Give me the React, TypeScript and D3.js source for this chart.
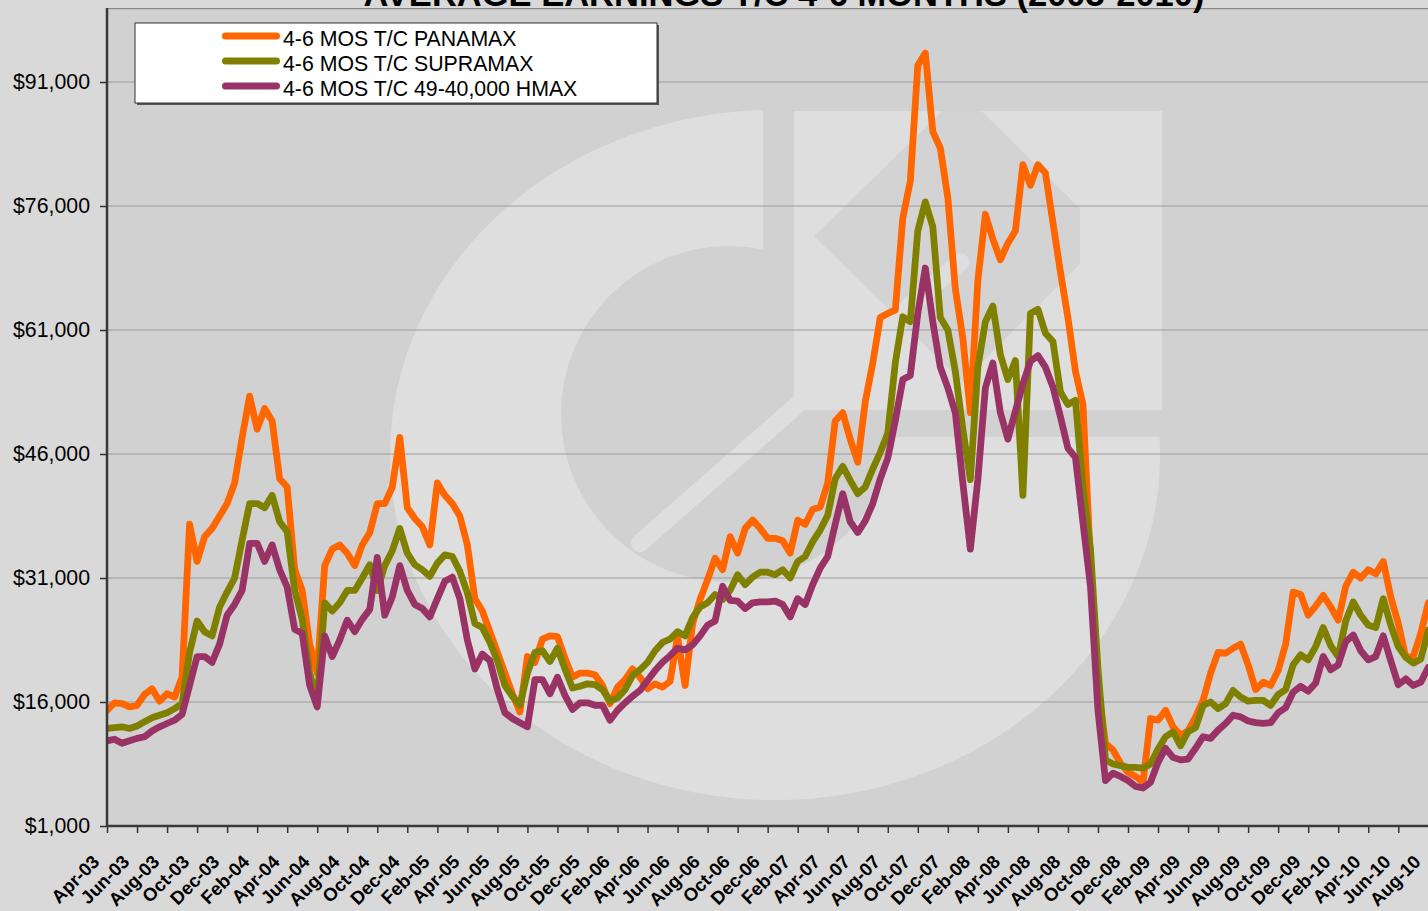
import { useEffect, useRef } from "react";
import * as d3 from "d3";

const W = 1428;
const H = 911;
const FONT = "Arial, 'Liberation Sans', sans-serif";
const TITLE = "AVERAGE EARNINGS T/C 4-6 MONTHS (2003-2010)";

// semi-monthly readings in $ thousands, first value = Apr-03
const panamax = [
  15.0, 15.9, 15.8, 15.4, 15.6, 16.9, 17.6, 16.1, 17.0, 16.6,
  19.0, 37.5, 33.0, 36.0, 37.0, 38.5, 40.0, 42.5, 48.0, 53.0,
  49.0, 51.5, 50.0, 43.0, 42.0, 32.0, 29.5, 23.0, 19.5, 32.5,
  34.5, 35.0, 34.0, 32.5, 35.0, 36.5, 40.0, 40.0, 42.0, 48.0,
  39.5, 38.2, 37.2, 35.0, 42.5, 41.0, 40.0, 38.5, 35.0, 28.5,
  27.0, 24.5, 22.0, 19.5, 17.0, 14.8, 21.5, 20.8, 23.6, 24.0,
  23.9, 21.3, 19.0, 19.5, 19.5, 19.3, 18.0, 15.8, 17.8, 18.7,
  20.0, 19.0, 17.6, 18.2, 17.8, 18.5, 23.9, 18.0, 25.5, 28.4,
  30.8, 33.4, 32.0, 36.0, 34.0, 37.0, 38.0, 37.0, 35.8, 35.8,
  35.5, 34.0, 38.0, 37.5, 39.3, 39.6, 42.5, 50.0, 51.0, 47.8,
  45.0, 52.3, 57.0, 62.5, 63.0, 63.4, 74.5, 79.0, 93.0, 94.5,
  85.0, 83.0, 77.0, 66.0, 60.0, 51.0, 67.0, 75.0, 72.0, 69.5,
  71.5, 73.0, 81.0, 78.5, 81.0, 80.0, 74.0, 68.0, 62.5, 56.0,
  52.0, 33.0, 18.0, 11.0, 10.2, 8.6, 7.5, 7.0, 6.3, 14.0,
  13.8, 15.0, 13.0, 12.0, 12.5, 14.2, 16.2, 19.5, 22.0, 21.9,
  22.5, 23.0, 20.5, 17.5, 18.4, 18.0, 19.8, 23.0, 29.3, 29.0,
  26.5, 27.6, 28.9, 27.5, 25.9, 30.0, 31.7, 31.0, 32.0, 31.5,
  33.0, 28.7, 25.5, 21.4, 21.5, 24.3, 28.0,
];

const supramax = [
  12.8, 12.9, 13.0, 12.8, 13.1, 13.6, 14.1, 14.4, 14.7, 15.2,
  15.8, 22.0, 25.8, 24.5, 24.0, 27.5, 29.3, 31.0, 35.6, 40.0,
  40.0, 39.5, 41.0, 37.8, 36.6, 29.5, 26.0, 19.5, 16.3, 28.0,
  27.0, 28.0, 29.5, 29.5, 31.0, 32.6, 29.5, 32.5, 34.3, 37.0,
  34.0, 32.6, 32.0, 31.2, 32.8, 33.8, 33.6, 31.8, 29.2, 25.5,
  25.0, 23.2, 21.0, 18.0, 16.7, 15.6, 19.5, 22.0, 22.2, 20.9,
  22.5, 20.0, 17.7, 17.9, 18.2, 18.1, 17.5, 16.1, 16.5, 17.5,
  19.2, 19.9, 20.8, 22.2, 23.2, 23.6, 24.5, 24.0, 26.2, 27.5,
  28.0, 29.0, 28.4, 29.5, 31.4, 30.2, 31.1, 31.7, 31.7, 31.4,
  32.0, 31.0, 33.0, 33.6, 35.4, 36.8, 38.6, 43.0, 44.5, 42.8,
  41.2, 42.0, 44.2, 46.2, 48.5, 57.0, 62.6, 62.0, 73.0, 76.5,
  73.5, 62.5, 61.0, 56.0, 49.0, 42.9, 56.5, 62.0, 63.9, 58.0,
  55.0, 57.3, 41.0, 63.0, 63.5, 60.6, 59.6, 53.5, 52.0, 52.5,
  42.0, 34.5, 20.0, 9.0, 8.5, 8.3, 8.1, 8.1, 8.0, 8.5,
  10.3, 11.8, 12.4, 10.7, 12.4, 12.9, 15.6, 16.0, 15.2, 15.8,
  17.4, 16.6, 16.1, 16.2, 16.2, 15.6, 16.9, 17.5, 20.5, 21.7,
  21.1, 22.7, 25.0, 22.8, 21.5, 25.8, 28.1, 26.5, 25.3, 25.0,
  28.5, 25.3, 22.7, 21.4, 20.7, 21.2, 24.7,
];

const hmax = [
  11.3, 11.5, 11.0, 11.3, 11.6, 11.8, 12.5, 13.0, 13.4, 13.8,
  14.5, 18.0, 21.5, 21.5, 20.8, 23.0, 26.5, 27.8, 29.5, 35.2,
  35.2, 33.0, 35.0, 32.0, 29.9, 24.8, 24.3, 18.0, 15.4, 24.0,
  21.5, 23.5, 25.9, 24.5, 26.0, 27.2, 33.5, 26.5, 28.7, 32.5,
  29.5, 27.8, 27.3, 26.3, 28.5, 30.6, 31.1, 28.5, 23.5, 20.0,
  21.8, 21.0, 17.5, 14.7, 14.0, 13.5, 13.0, 18.7, 18.7, 17.0,
  19.0, 16.8, 15.1, 15.9, 15.9, 15.6, 15.6, 13.8, 15.0, 15.9,
  16.7, 17.4, 18.6, 19.8, 20.8, 21.6, 22.5, 22.3, 22.9, 24.0,
  25.3, 25.8, 30.0, 28.3, 28.2, 27.3, 28.0, 28.1, 28.1, 28.2,
  27.8, 26.3, 28.5, 27.8, 30.2, 32.2, 33.6, 37.5, 41.2, 37.8,
  36.5, 37.9, 40.0, 43.0, 45.5, 50.0, 55.0, 55.5, 63.0, 68.5,
  62.0, 56.5, 54.0, 51.0, 42.5, 34.5, 42.9, 54.0, 57.0, 51.0,
  47.8, 51.2, 54.5, 57.2, 57.9, 56.5, 54.1, 50.5, 46.7, 45.6,
  37.7, 30.0, 15.0, 6.5, 7.4, 7.0, 6.5, 5.8, 5.6, 6.3,
  8.7, 10.4, 9.3, 9.0, 9.1, 10.4, 11.8, 11.6, 12.6, 13.4,
  14.4, 14.2, 13.7, 13.5, 13.4, 13.5, 14.7, 15.3, 17.2, 17.9,
  17.3, 18.3, 21.5, 19.9, 20.5, 23.3, 24.1, 22.2, 21.1, 21.5,
  24.0, 21.0, 18.1, 18.8, 18.0, 18.4, 20.2,
];

const seriesNames = ["4-6 MOS T/C PANAMAX", "4-6 MOS T/C SUPRAMAX", "4-6 MOS T/C 49-40,000 HMAX"];
const seriesColors = ["#ff6600", "#808000", "#993366"];

const xLabels = [
  "Apr-03", "Jun-03", "Aug-03", "Oct-03", "Dec-03", "Feb-04", "Apr-04", "Jun-04", "Aug-04",
  "Oct-04", "Dec-04", "Feb-05", "Apr-05", "Jun-05", "Aug-05", "Oct-05", "Dec-05", "Feb-06",
  "Apr-06", "Jun-06", "Aug-06", "Oct-06", "Dec-06", "Feb-07", "Apr-07", "Jun-07", "Aug-07",
  "Oct-07", "Dec-07", "Feb-08", "Apr-08", "Jun-08", "Aug-08", "Oct-08", "Dec-08", "Feb-09",
  "Apr-09", "Jun-09", "Aug-09", "Oct-09", "Dec-09", "Feb-10", "Apr-10", "Jun-10", "Aug-10",
];
const yTicks = [1000, 16000, 31000, 46000, 61000, 76000, 91000];

export default function App() {
  const ref = useRef<SVGSVGElement>(null);

  useEffect(() => {
    const svg = d3.select(ref.current);
    svg.selectAll("*").remove();

    const left = 107;
    const top = 8;
    const bottom = 826;

    // months since Apr-03
    const x = d3.scaleLinear().domain([0, 88]).range([left, 1428.3]);
    const y = d3.scaleLinear().domain([1000, 100000]).range([bottom, 7.6]);

    svg.append("rect").attr("width", W).attr("height", H).attr("fill", "#d9d9d9");

    const defs = svg.append("defs");
    defs.append("clipPath").attr("id", "plotClip")
      .append("rect").attr("x", left).attr("y", top).attr("width", W - left).attr("height", bottom - top);
    defs.append("clipPath").attr("id", "ringCut")
      .append("path").attr("d", "M0,0H763V437H1428V911H0Z");
    defs.append("clipPath").attr("id", "squareClip")
      .append("rect").attr("x", 794).attr("y", 111).attr("width", 368).attr("height", 299);

    const plot = svg.append("g").attr("clip-path", "url(#plotClip)");
    plot.append("rect").attr("x", left).attr("y", top).attr("width", W - left).attr("height", bottom - top)
      .attr("fill", "#d1d1d1");

    // faint logo watermark
    const light = "#dedede";
    const wm = plot.append("g");
    const ellipse = (cx: number, cy: number, rx: number, ry: number) =>
      `M${cx - rx},${cy}a${rx},${ry} 0 1,0 ${2 * rx},0a${rx},${ry} 0 1,0 ${-2 * rx},0Z`;
    wm.append("path")
      .attr("d", ellipse(775, 455, 385, 345) + ellipse(729, 414, 168, 168))
      .attr("fill-rule", "evenodd")
      .attr("fill", light)
      .attr("clip-path", "url(#ringCut)");
    const sq = wm.append("g").attr("clip-path", "url(#squareClip)");
    sq.append("rect").attr("x", 794).attr("y", 111).attr("width", 368).attr("height", 299).attr("fill", light);
    sq.append("path").attr("d", "M814,236L962,92L1108,236L962,382Z").attr("fill", "#d3d3d3");
    sq.append("path").attr("d", "M1080,180L1162,120V410H1080Z").attr("fill", light);
    wm.append("line").attr("x1", 640).attr("y1", 543).attr("x2", 960).attr("y2", 262)
      .attr("stroke", light).attr("stroke-width", 18).attr("stroke-linecap", "round");

    // gridlines
    plot.append("g").selectAll("line").data(yTicks.slice(1)).join("line")
      .attr("x1", left).attr("x2", W)
      .attr("y1", (d) => y(d)).attr("y2", (d) => y(d))
      .attr("stroke", "#9b9b9b").attr("stroke-width", 1.2);

    plot.append("line").attr("x1", left).attr("x2", W).attr("y1", top + 0.5).attr("y2", top + 0.5)
      .attr("stroke", "#8a8a8a").attr("stroke-width", 1.5);

    const line = d3.line<number>()
      .x((_, i) => x(i / 2))
      .y((d) => y(d * 1000));

    [panamax, supramax, hmax].forEach((s, i) => {
      plot.append("path")
        .datum(s)
        .attr("d", line)
        .attr("fill", "none")
        .attr("stroke", seriesColors[i])
        .attr("stroke-width", 6.8)
        .attr("stroke-linejoin", "round")
        .attr("stroke-linecap", "round");
    });

    // y axis
    svg.append("g")
      .attr("transform", `translate(${left},0)`)
      .call(d3.axisLeft(y).tickValues(yTicks).tickSize(7).tickPadding(10)
        .tickFormat((d) => "$" + d3.format(",")(d as number)))
      .call((g) => g.select(".domain").remove())
      .call((g) => g.selectAll("line").attr("stroke", "#333").attr("stroke-width", 1.5))
      .call((g) => g.selectAll("text").attr("fill", "#000").style("font-size", "21.3px").style("font-family", FONT));

    // x axis
    svg.append("g")
      .attr("transform", `translate(0,${bottom})`)
      .call(d3.axisBottom(x).tickValues(d3.range(0, 89, 2)).tickSize(7)
        .tickFormat((_, i) => xLabels[i]))
      .call((g) => g.select(".domain").remove())
      .call((g) => g.selectAll("line").attr("stroke", "#333").attr("stroke-width", 1.5))
      .call((g) => g.selectAll("text")
        .attr("x", 0).attr("y", 0).attr("dy", 0)
        .attr("text-anchor", "end")
        .attr("transform", "translate(-7,37) rotate(-45)")
        .attr("fill", "#000")
        .style("font-size", "18.5px").style("font-weight", "bold").style("font-family", FONT));

    svg.append("line").attr("x1", left).attr("x2", left).attr("y1", top).attr("y2", bottom + 1)
      .attr("stroke", "#3a3a3a").attr("stroke-width", 2.5);
    svg.append("line").attr("x1", left).attr("x2", W).attr("y1", bottom).attr("y2", bottom)
      .attr("stroke", "#3a3a3a").attr("stroke-width", 2.5);

    // title (mostly above the frame)
    svg.append("text").attr("x", 784).attr("y", 6).attr("text-anchor", "middle")
      .attr("fill", "#000").style("font-size", "34.5px").style("font-weight", "bold").style("font-family", FONT)
      .text(TITLE);

    // legend
    const lg = svg.append("g");
    lg.append("rect").attr("x", 137).attr("y", 25).attr("width", 522).attr("height", 80).attr("fill", "#555");
    lg.append("rect").attr("x", 135).attr("y", 23).attr("width", 522).attr("height", 80)
      .attr("fill", "#fff").attr("stroke", "#333").attr("stroke-width", 1);
    seriesNames.forEach((name, i) => {
      const ly = 36 + i * 25;
      lg.append("line").attr("x1", 225.5).attr("x2", 276.5).attr("y1", ly).attr("y2", ly)
        .attr("stroke", seriesColors[i]).attr("stroke-width", 7).attr("stroke-linecap", "round");
      lg.append("text").attr("x", 283).attr("y", ly + 9.5).attr("fill", "#000")
        .style("font-size", "21.3px").style("font-family", FONT).text(name);
    });
  }, []);

  return (
    <svg
      ref={ref}
      width={W}
      height={H}
      style={{ position: "absolute", left: 0, top: 0, display: "block" }}
      role="img"
      aria-label="Average earnings T/C 4-6 months 2003-2010"
    />
  );
}
